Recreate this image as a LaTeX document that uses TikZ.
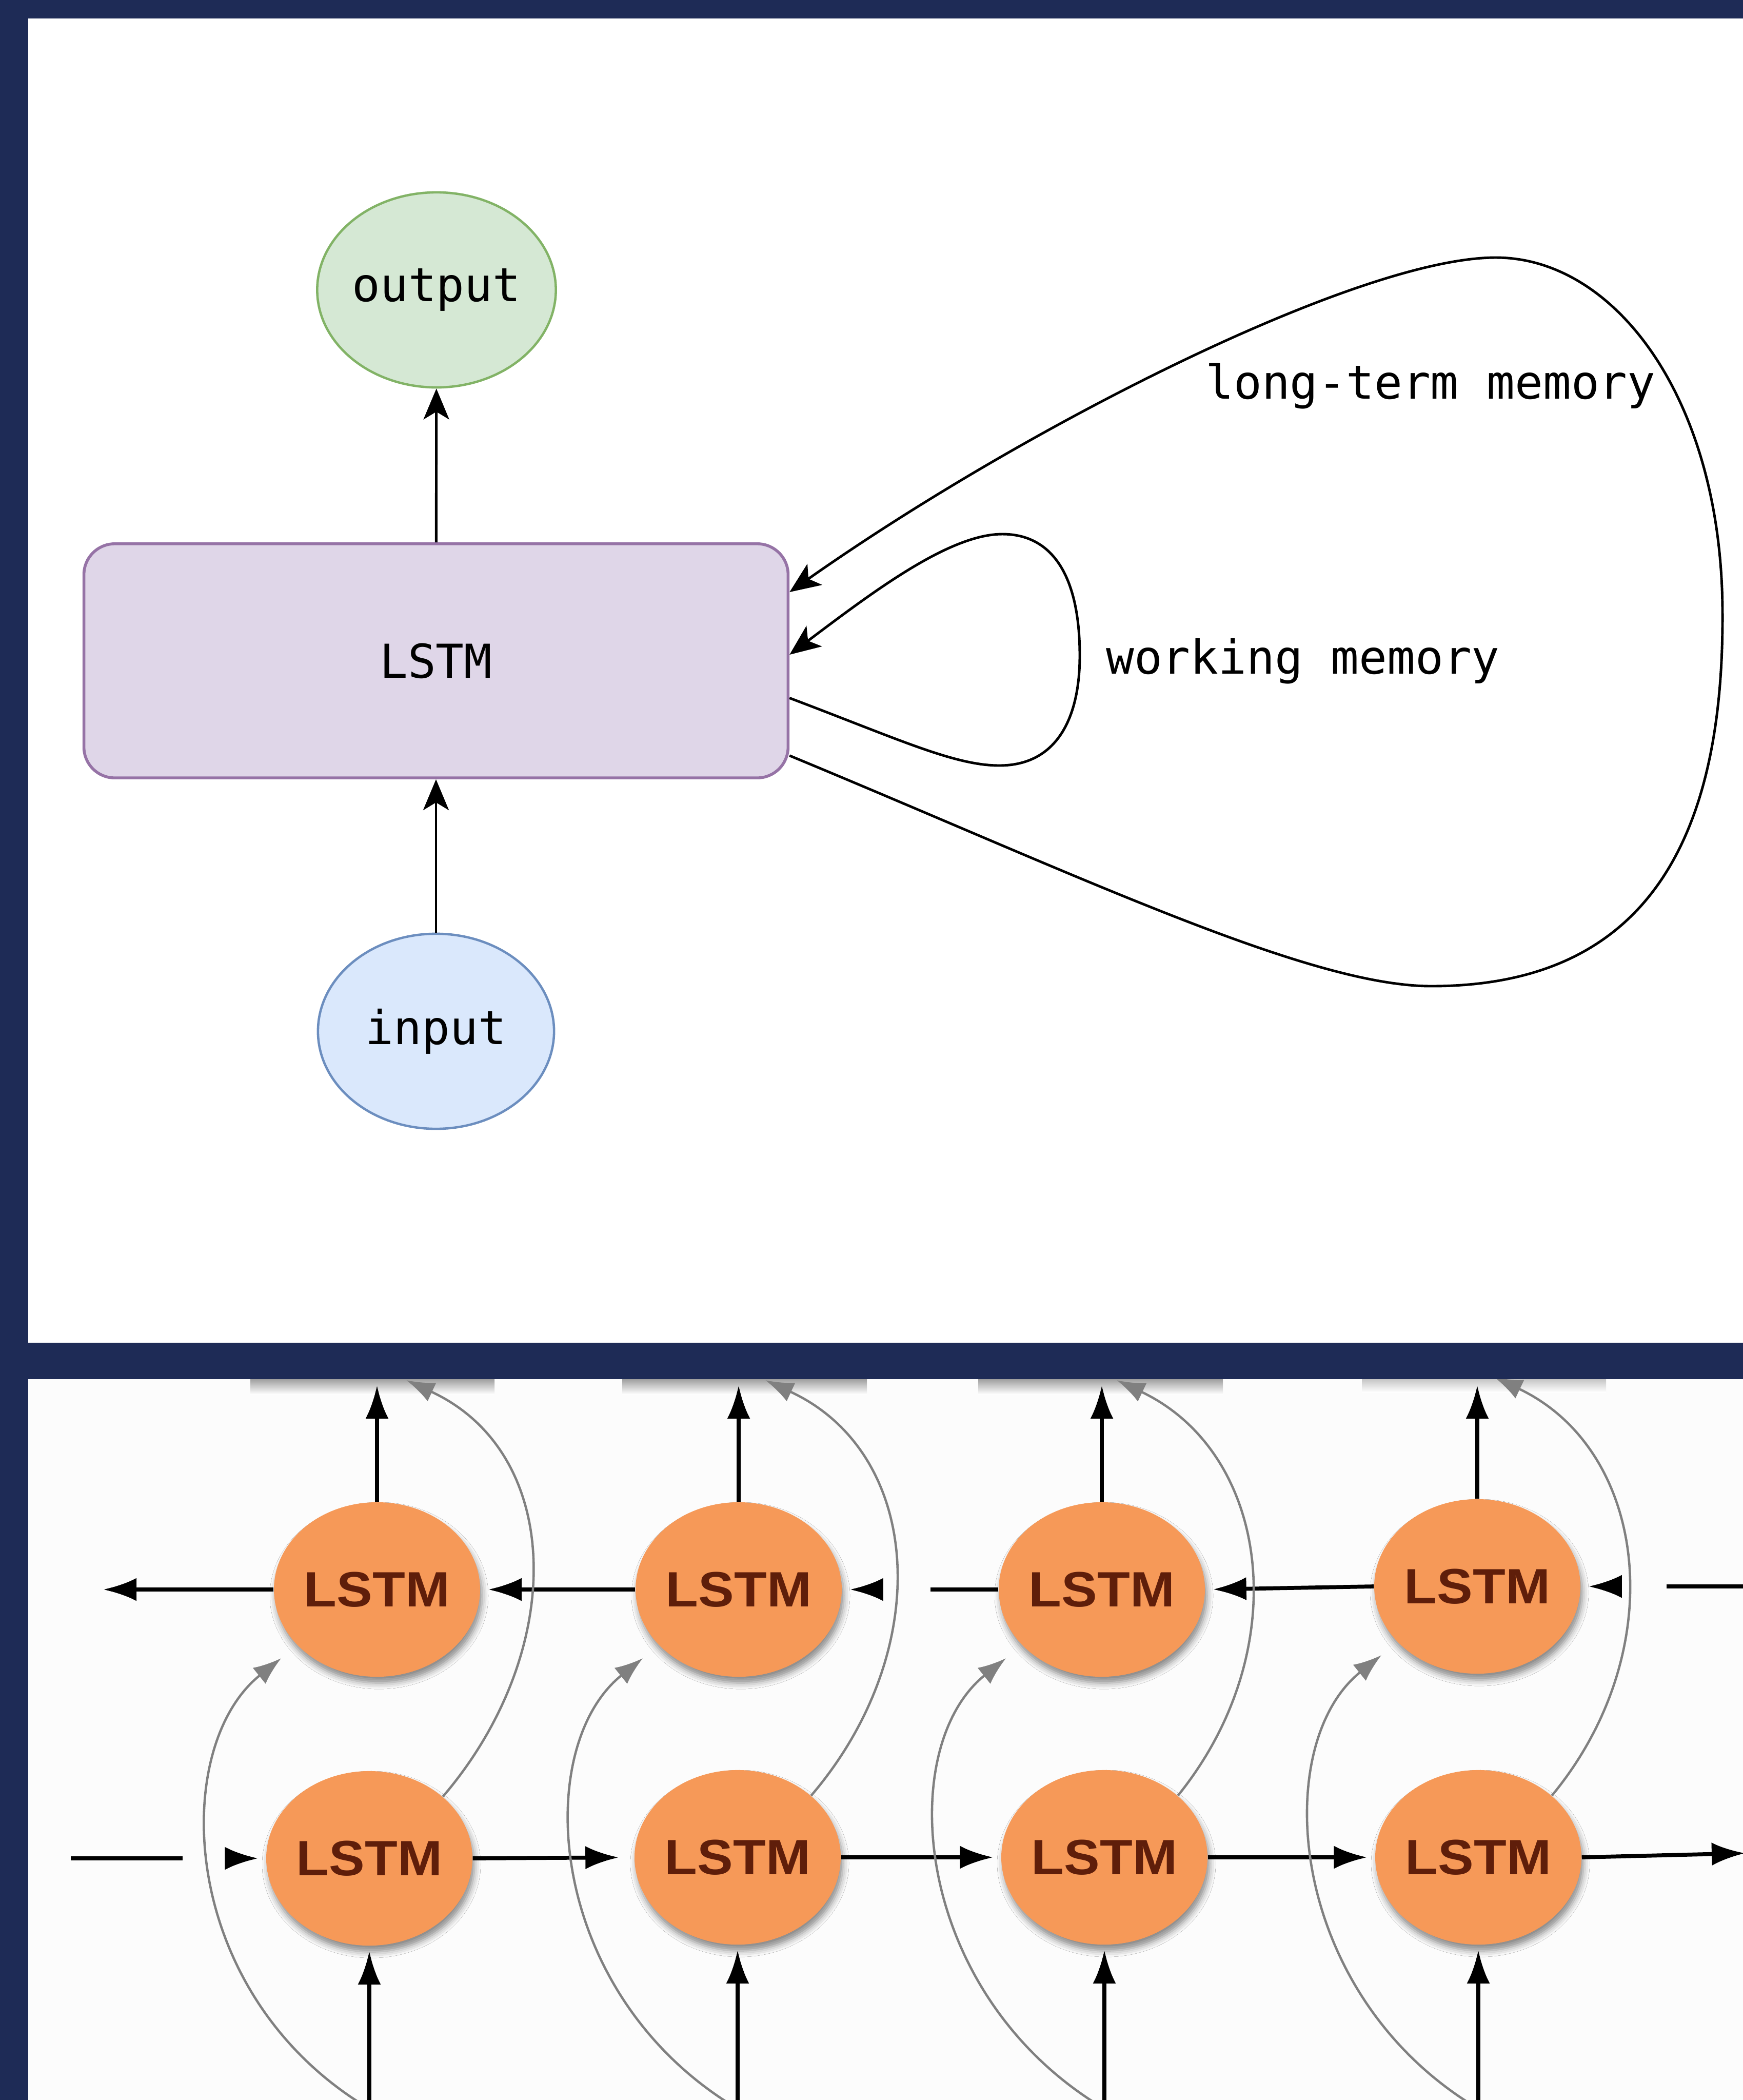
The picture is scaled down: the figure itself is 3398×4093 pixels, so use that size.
\documentclass[tikz,border=0pt]{standalone}
\usepackage{fontspec}
\newfontfamily\codefont{DejaVu Sans Mono}
\newfontfamily\cellfont{Liberation Sans}
\usetikzlibrary{arrows.meta,shapes.geometric,shadows.blur}

\definecolor{framenavy}{RGB}{30,43,86}
\definecolor{outfill}{RGB}{213,232,212}
\definecolor{outdraw}{RGB}{130,179,102}
\definecolor{infill}{RGB}{218,232,252}
\definecolor{indraw}{RGB}{108,142,191}
\definecolor{cellfill}{RGB}{223,214,232}
\definecolor{celldraw}{RGB}{150,115,166}
\definecolor{lstmorange}{RGB}{246,153,88}
\definecolor{lstmtext}{RGB}{95,30,10}
\definecolor{linkgrey}{RGB}{128,128,128}

\begin{document}
\begin{tikzpicture}[x=0.01cm,y=-0.01cm,
  io/.style={ellipse,minimum width=4.6cm,minimum height=3.8cm,inner sep=0pt,line width=1.3pt,
    font=\codefont\fontsize{25.9}{31}\selectfont},
  cellbox/.style={rectangle,rounded corners=0.6cm,draw=celldraw,fill=cellfill,line width=1.6pt,
    minimum width=13.72cm,minimum height=4.56cm,font=\codefont\fontsize{25.9}{31}\selectfont},
  memlabel/.style={font=\codefont\fontsize{25.9}{31}\selectfont,inner sep=0pt},
  flow/.style={line width=1.4pt,-{Stealth[length=0.6cm,width=0.5cm,inset=0.15cm]}},
  unit/.style={ellipse,fill=lstmorange,minimum width=3.62cm,minimum height=3.4cm,inner sep=0pt,
    text=lstmtext,font=\cellfont\bfseries\fontsize{27.5}{30}\selectfont,
    blur shadow={shadow xshift=0.04cm,shadow yshift=-0.12cm,shadow blur radius=0.12cm,shadow opacity=45}},
  link/.style={line width=2.2pt,-{Latex[length=0.65cm,width=0.45cm]}},
  bare/.style={line width=2.2pt},
  cross/.style={draw=linkgrey,line width=1.3pt,-{Latex[length=0.55cm,width=0.4cm]}}
]
\useasboundingbox (0,0) rectangle (3398,4093);
\fill [framenavy] (0,0) rectangle (3398,4093);
\fill [white] (55,36) rectangle (3398,2617);
\fill [white!98!gray] (55,2688) rectangle (3398,4093);

% upper panel
\node [io,fill=outfill,draw=outdraw] (out) at (851,565) {output};
\node [cellbox] (cell) at (850,1288) {LSTM};
\node [io,fill=infill,draw=indraw] (in) at (850,2010) {input};
\node [memlabel] (ltm) at (2789,752) {long-term memory};
\node [memlabel] (wm) at (2540,1289) {working memory};

\draw [flow] (cell) -- (out);
\draw [flow] (in) -- (cell);

\draw [flow] (cell.-6) .. controls (1750,1440) and (1860,1492) .. (1948,1492)
  .. controls (2060,1492) and (2105,1400) .. (2105,1278)
  .. controls (2105,1120) and (2050,1041) .. (1954,1041)
  .. controls (1850,1041) and (1700,1155) .. (cell.1);

\draw [flow] (cell.-15) .. controls (2100,1705) and (2550,1922) .. (2790,1922)
  .. controls (3200,1922) and (3360,1650) .. (3358,1196)
  .. controls (3358,780) and (3150,502) .. (2916,502)
  .. controls (2650,502) and (2000,830) .. (cell.11);

% lower panel
\begin{scope}
\clip (55,2688) rectangle (3398,4093);

\shade [top color=gray!75,bottom color=white] (488,2688) rectangle (964,2718);
\shade [top color=gray!75,bottom color=white] (1213,2688) rectangle (1690,2718);
\shade [top color=gray!75,bottom color=white] (1907,2688) rectangle (2384,2718);
\shade [top color=gray!45,bottom color=white] (2655,2688) rectangle (3131,2714);

\node [unit] (bw1) at (735,3098) {\scalebox{1.08}[1]{LSTM}};
\node [unit] (bw2) at (1440,3098) {\scalebox{1.08}[1]{LSTM}};
\node [unit] (bw3) at (2148,3098) {\scalebox{1.08}[1]{LSTM}};
\node [unit] (bw4) at (2880,3092) {\scalebox{1.08}[1]{LSTM}};
\node [unit] (fw1) at (720,3622) {\scalebox{1.08}[1]{LSTM}};
\node [unit] (fw2) at (1438,3620) {\scalebox{1.08}[1]{LSTM}};
\node [unit] (fw3) at (2153,3620) {\scalebox{1.08}[1]{LSTM}};
\node [unit] (fw4) at (2882,3620) {\scalebox{1.08}[1]{LSTM}};

\coordinate (top1) at (735,2700);
\coordinate (top2) at (1440,2700);
\coordinate (top3) at (2148,2700);
\coordinate (top4) at (2880,2700);
\coordinate (src1) at (720,4110);
\coordinate (src2) at (1438,4110);
\coordinate (src3) at (2153,4110);
\coordinate (src4) at (2882,4110);
\coordinate (gtop1) at (792,2690);
\coordinate (gtop2) at (1492,2690);
\coordinate (gtop3) at (2177,2690);
\coordinate (gtop4) at (2913,2684);

% backward row
\coordinate (bwend) at (201,3098);
\coordinate (bwgapa) at (1814,3098);
\coordinate (bwgapb) at (1712,3098);
\coordinate (bwin) at (3410,3092);
\coordinate (bwgapc) at (3249,3092);
\coordinate (bwgapd) at (3150,3092);
\draw [link] (bw1.west) -- (bwend);
\draw [link,shorten >=0.15cm] (bw2.west) -- (bw1.east);
\draw [bare] (bw3.west) -- (bwgapa);
\draw [link,shorten >=0.15cm] (bwgapb) -- (bw2.east);
\draw [link,shorten >=0.15cm] (bw4.west) -- (bw3.east);
\draw [bare] (bwin) -- (bwgapc);
\draw [link,shorten >=0.15cm] (bwgapd) -- (bw4.east);

% forward row
\coordinate (fwstart) at (138,3622);
\coordinate (fwgapa) at (356,3622);
\coordinate (fwgapb) at (450,3622);
\coordinate (fwend) at (3402,3612);
\draw [bare] (fwstart) -- (fwgapa);
\draw [link,shorten >=0.15cm] (fwgapb) -- (fw1.west);
\draw [link,shorten >=0.3cm] (fw1.east) -- (fw2.west);
\draw [link,shorten >=0.15cm] (fw2.east) -- (fw3.west);
\draw [link,shorten >=0.15cm] (fw3.east) -- (fw4.west);
\draw [link] (fw4.east) -- (fwend);

% outputs and inputs
\draw [link] (bw1.north) -- (top1);
\draw [link] (bw2.north) -- (top2);
\draw [link] (bw3.north) -- (top3);
\draw [link] (bw4.north) -- (top4);
\draw [link,shorten >=0.1cm] (src1) -- (fw1.south);
\draw [link,shorten >=0.1cm] (src2) -- (fw2.south);
\draw [link,shorten >=0.1cm] (src3) -- (fw3.south);
\draw [link,shorten >=0.1cm] (src4) -- (fw4.south);

% cross links
\draw [cross,shorten >=0.4cm] (src1) .. controls +(-375,-223) and +(-250,200) .. (bw1.215);
\draw [cross,shorten >=0.4cm] (src2) .. controls +(-375,-223) and +(-250,200) .. (bw2.215);
\draw [cross,shorten >=0.4cm] (src3) .. controls +(-375,-223) and +(-250,200) .. (bw3.215);
\draw [cross,shorten >=0.4cm] (src4) .. controls +(-375,-223) and +(-250,200) .. (bw4.215);
\draw [cross] (fw1.40) .. controls +(243,-284) and +(308,142) .. (gtop1);
\draw [cross] (fw2.40) .. controls +(243,-284) and +(308,142) .. (gtop2);
\draw [cross] (fw3.40) .. controls +(230,-284) and +(300,142) .. (gtop3);
\draw [cross] (fw4.40) .. controls +(235,-284) and +(300,142) .. (gtop4);
\end{scope}
\end{tikzpicture}
\end{document}
